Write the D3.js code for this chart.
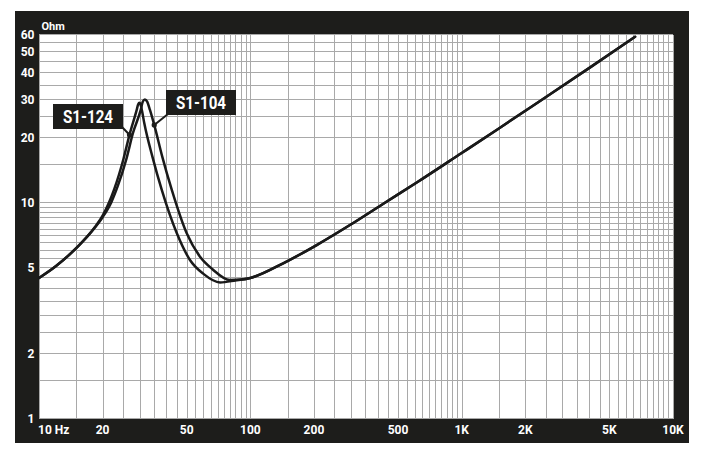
<!DOCTYPE html>
<html>
<head>
<meta charset="utf-8">
<script src="https://cdn.jsdelivr.net/npm/d3@7"></script>
<style>
  html, body { margin: 0; padding: 0; background: #ffffff; }
  svg { display: block; }
  text { font-family: Roboto, "Liberation Sans", Arial, sans-serif; font-weight: 700; }
</style>
</head>
<body>
<svg id="chart" width="706" height="462"></svg>
<script>
// ---- data ----
const xTickValues = [10, 20, 50, 100, 200, 500, 1000, 2000, 5000, 10000];
const xTickLabels = ["10 Hz", "20", "50", "100", "200", "500", "1K", "2K", "5K", "10K"];
const yTickValues = [1, 2, 5, 10, 20, 30, 40, 50, 60];
const yTickLabels = ["1", "2", "5", "10", "20", "30", "40", "50", "60"];
const xGridDecades = [10, 100, 1000];
const xGridSteps = [1, 1.5, 2, 2.5, 3, 3.5, 4, 4.5, 5, 5.5, 6, 6.5, 7, 7.5, 8, 8.5, 9, 9.5];
const yGridValues = [1, 1.5, 2, 2.5, 3, 3.5, 4, 4.5, 5, 5.5, 6, 6.5, 7, 7.5, 8, 8.5, 9, 9.5,
                     10, 15, 20, 25, 30, 35, 40, 45, 50, 55, 60];

// S1-124 (low-frequency part, Hz / Ohm)
const s124Freq = [10, 12, 15, 18.4, 20, 22.7, 25.1, 26.8, 29.0, 29.45, 29.9, 30.3, 30.7, 31.5, 34.4, 38.1, 44.9, 51.8, 60, 71.9, 85];
const s124Ohm  = [4.5, 5.1, 6.18, 7.74, 8.75, 11.6, 16.0, 20.7, 27.0, 28.6, 29.1, 28.4, 26.8, 23.4, 16.4, 11.5, 7.24, 5.45, 4.7, 4.29, 4.38];
// S1-104 (low-frequency part)
const s104Freq = [10, 12, 15, 18.4, 20, 22, 23.6, 26.0, 27.8, 30.3, 31.0, 31.7, 32.5, 33.5, 35.1, 38.3, 42.5, 50, 57.8, 66, 80, 90];
const s104Ohm  = [4.5, 5.1, 6.18, 7.7, 8.6, 10.1, 12.0, 16.2, 21.0, 27.0, 29.5, 30.2, 29.5, 27.0, 23.0, 16.4, 11.5, 7.24, 5.64, 4.95, 4.40, 4.42];
// shared upper part of both curves
const tailFreq = [100, 143, 206, 296, 426, 613, 1000, 1500, 2349, 4055, 6617];
const tailOhm  = [4.5, 5.26, 6.39, 7.91, 9.93, 12.45, 17.05, 22.15, 29.7, 42.5, 58.9];

// label anchor points on the curves
const labelNames = ["S1-124", "S1-104"];
const labelFreq = [26.8, 35.1];
const labelOhm = [20.7, 23.0];

// ---- layout ----
const frame = { x: 15, y: 11, w: 674, h: 432 };
const plot = { left: 39, right: 673, top: 35, bottom: 419 };
const dark = "#1d1d1b";
const gridColor = "#a9a9a9";

const svg = d3.select("#chart");
const x = d3.scaleLog().domain([10, 10000]).range([plot.left, plot.right]);
const y = d3.scaleLog().domain([1, 60]).range([plot.bottom, plot.top]);

svg.append("rect").attr("x", frame.x).attr("y", frame.y).attr("width", frame.w).attr("height", frame.h).attr("fill", dark);
svg.append("rect").attr("x", plot.left).attr("y", plot.top)
  .attr("width", plot.right - plot.left).attr("height", plot.bottom - plot.top).attr("fill", "#ffffff");

// grid
const xGrid = [];
xGridDecades.forEach(d => xGridSteps.forEach(s => xGrid.push(d * s)));
xGrid.push(10000);
const g = svg.append("g");
g.selectAll("line.vx").data(xGrid).enter().append("line")
  .attr("x1", d => Math.round(x(d)) + 0.5).attr("x2", d => Math.round(x(d)) + 0.5)
  .attr("y1", plot.top).attr("y2", plot.bottom)
  .attr("stroke", gridColor).attr("stroke-width", 1);
g.selectAll("line.hy").data(yGridValues).enter().append("line")
  .attr("y1", d => Math.round(y(d)) - 0.5).attr("y2", d => Math.round(y(d)) - 0.5)
  .attr("x1", plot.left).attr("x2", plot.right)
  .attr("stroke", gridColor).attr("stroke-width", 1);

// axis labels
const xl = svg.append("g").attr("fill", "#ffffff").attr("font-size", 12);
xl.selectAll("text").data(xTickValues).enter().append("text")
  .attr("x", (d, i) => i === 0 ? plot.left - 1 : x(d))
  .attr("y", 434)
  .attr("text-anchor", (d, i) => i === 0 ? "start" : "middle")
  .text((d, i) => xTickLabels[i]);

const yl = svg.append("g").attr("fill", "#ffffff").attr("font-size", 12);
yl.selectAll("text").data(yTickValues).enter().append("text")
  .attr("x", 34.5)
  .attr("y", d => y(d) + 4.2)
  .attr("text-anchor", "end")
  .text((d, i) => yTickLabels[i]);

svg.append("text").attr("x", 41.5).attr("y", 29.5).attr("fill", "#ffffff").attr("font-size", 11).text("Ohm");

// curves
const line = d3.line().x(d => x(d[0])).y(d => y(d[1])).curve(d3.curveMonotoneX);
const tail = tailFreq.map((f, i) => [f, tailOhm[i]]);
const series = [
  s124Freq.map((f, i) => [f, s124Ohm[i]]).concat(tail),
  s104Freq.map((f, i) => [f, s104Ohm[i]]).concat(tail)
];
svg.append("g").selectAll("path").data(series).enter().append("path")
  .attr("d", line).attr("fill", "none").attr("stroke", "#1a1a1a")
  .attr("stroke-width", 2.5).attr("stroke-linejoin", "round").attr("stroke-linecap", "round");

// series labels
const boxes = [
  { bx: 53, by: 104, bw: 70, bh: 25, lx: 122, ly: 127 },
  { bx: 166, by: 90, bw: 70, bh: 25, lx: 168, ly: 114 }
];
labelNames.forEach((name, i) => {
  const b = boxes[i];
  const px = x(labelFreq[i]), py = y(labelOhm[i]);
  svg.append("line").attr("x1", b.lx).attr("y1", b.ly).attr("x2", px).attr("y2", py)
    .attr("stroke", dark).attr("stroke-width", 2);
  svg.append("circle").attr("cx", px).attr("cy", py).attr("r", 2.6).attr("fill", dark);
  svg.append("rect").attr("x", b.bx).attr("y", b.by).attr("width", b.bw).attr("height", b.bh).attr("fill", dark);
  svg.append("text").attr("x", b.bx + b.bw / 2).attr("y", b.by + b.bh / 2 + 6.5)
    .attr("text-anchor", "middle").attr("fill", "#ffffff").attr("font-size", 18)
    .attr("textLength", 50).attr("lengthAdjust", "spacingAndGlyphs").text(name);
});
</script>
</body>
</html>
